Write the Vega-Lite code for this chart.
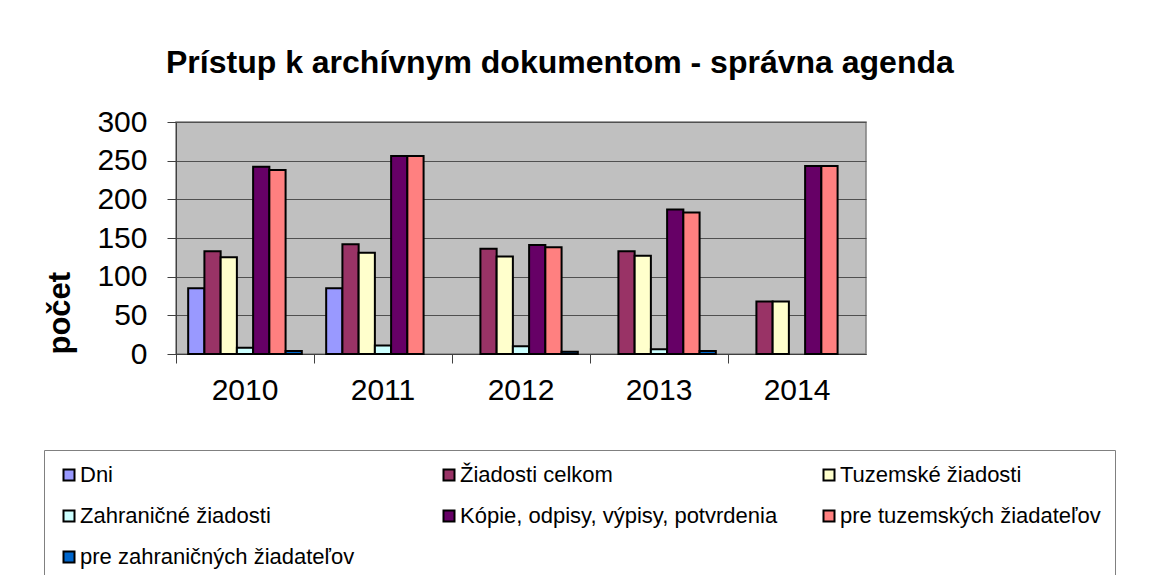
{
  "$schema": "https://vega.github.io/schema/vega-lite/v6.json",
  "autosize": "none",
  "padding": {"left": 176, "top": 122, "right": 300, "bottom": 221},
  "width": 690,
  "height": 232,
  "background": "white",
  "title": {
    "text": "Prístup k archívnym dokumentom - správna agenda",
    "font": "Liberation Sans",
    "fontSize": 32,
    "fontWeight": "bold",
    "color": "black",
    "anchor": "start",
    "frame": "group",
    "baseline": "alphabetic",
    "offset": 2,
    "dx": -10
  },
  "data": {
    "values": [
      {"rok": "2010", "séria": "Dni", "počet": 85},
      {"rok": "2010", "séria": "Žiadosti celkom", "počet": 133},
      {"rok": "2010", "séria": "Tuzemské žiadosti", "počet": 125},
      {"rok": "2010", "séria": "Zahraničné žiadosti", "počet": 8},
      {"rok": "2010", "séria": "Kópie, odpisy, výpisy, potvrdenia", "počet": 242},
      {"rok": "2010", "séria": "pre tuzemských žiadateľov", "počet": 238},
      {"rok": "2010", "séria": "pre zahraničných žiadateľov", "počet": 4},
      {"rok": "2011", "séria": "Dni", "počet": 85},
      {"rok": "2011", "séria": "Žiadosti celkom", "počet": 142},
      {"rok": "2011", "séria": "Tuzemské žiadosti", "počet": 131},
      {"rok": "2011", "séria": "Zahraničné žiadosti", "počet": 11},
      {"rok": "2011", "séria": "Kópie, odpisy, výpisy, potvrdenia", "počet": 256},
      {"rok": "2011", "séria": "pre tuzemských žiadateľov", "počet": 256},
      {"rok": "2012", "séria": "Žiadosti celkom", "počet": 136},
      {"rok": "2012", "séria": "Tuzemské žiadosti", "počet": 126},
      {"rok": "2012", "séria": "Zahraničné žiadosti", "počet": 10},
      {"rok": "2012", "séria": "Kópie, odpisy, výpisy, potvrdenia", "počet": 141},
      {"rok": "2012", "séria": "pre tuzemských žiadateľov", "počet": 138},
      {"rok": "2012", "séria": "pre zahraničných žiadateľov", "počet": 3},
      {"rok": "2013", "séria": "Žiadosti celkom", "počet": 133},
      {"rok": "2013", "séria": "Tuzemské žiadosti", "počet": 127},
      {"rok": "2013", "séria": "Zahraničné žiadosti", "počet": 6},
      {"rok": "2013", "séria": "Kópie, odpisy, výpisy, potvrdenia", "počet": 187},
      {"rok": "2013", "séria": "pre tuzemských žiadateľov", "počet": 183},
      {"rok": "2013", "séria": "pre zahraničných žiadateľov", "počet": 4},
      {"rok": "2014", "séria": "Žiadosti celkom", "počet": 68},
      {"rok": "2014", "séria": "Tuzemské žiadosti", "počet": 68},
      {"rok": "2014", "séria": "Kópie, odpisy, výpisy, potvrdenia", "počet": 243},
      {"rok": "2014", "séria": "pre tuzemských žiadateľov", "počet": 243}
    ]
  },
  "mark": {"type": "bar", "stroke": "black", "strokeWidth": 2},
  "encoding": {
    "x": {
      "field": "rok",
      "type": "nominal",
      "scale": {"paddingInner": 0, "paddingOuter": 0},
      "axis": {
        "title": null,
        "labelAngle": 0,
        "bandPosition": 0,
        "labelFont": "Liberation Sans",
        "labelFontSize": 30,
        "labelColor": "black",
        "labelPadding": 12,
        "tickSize": 9,
        "tickColor": "#404040",
        "domainColor": "#404040",
        "grid": false
      }
    },
    "xOffset": {
      "field": "séria",
      "type": "nominal",
      "scale": {
        "domain": ["Dni", "Žiadosti celkom", "Tuzemské žiadosti", "Zahraničné žiadosti", "Kópie, odpisy, výpisy, potvrdenia", "pre tuzemských žiadateľov", "pre zahraničných žiadateľov"],
        "paddingInner": 0,
        "paddingOuter": 0.75
      }
    },
    "y": {
      "field": "počet",
      "type": "quantitative",
      "scale": {"domain": [0, 300], "nice": false},
      "axis": {
        "title": "počet",
        "titleFont": "Liberation Sans",
        "titleFontSize": 31,
        "titleFontWeight": "bold",
        "titleColor": "black",
        "titleAnchor": "start",
        "titleBaseline": "alphabetic",
        "titleX": -107,
        "titleY": 232,
        "titleAngle": -90,
        "titleAlign": "left",
        "values": [0, 50, 100, 150, 200, 250, 300],
        "labelFont": "Liberation Sans",
        "labelFontSize": 30,
        "labelColor": "black",
        "labelPadding": 20,
        "tickSize": 9,
        "tickColor": "#404040",
        "domainColor": "#404040",
        "grid": true,
        "gridColor": "#505050",
        "gridWidth": 1
      }
    },
    "color": {
      "field": "séria",
      "type": "nominal",
      "scale": {
        "domain": ["Dni", "Žiadosti celkom", "Tuzemské žiadosti", "Zahraničné žiadosti", "Kópie, odpisy, výpisy, potvrdenia", "pre tuzemských žiadateľov", "pre zahraničných žiadateľov"],
        "range": ["#9999FF", "#993366", "#FFFFCC", "#CCFFFF", "#660066", "#FF8080", "#0066CC"]
      },
      "legend": {
        "title": null,
        "orient": "none",
        "legendX": -132,
        "legendY": 328,
        "direction": "horizontal",
        "columns": 3,
        "gridAlign": "all",
        "columnPadding": 40,
        "rowPadding": 19,
        "padding": 14,
        "strokeColor": "#808080",
        "fillColor": "white",
        "symbolType": "square",
        "symbolSize": 121,
        "symbolStrokeColor": "black",
        "symbolStrokeWidth": 2,
        "symbolOpacity": 1,
        "labelFont": "Liberation Sans",
        "labelFontSize": 22,
        "labelColor": "black",
        "labelOffset": 0,
        "labelLimit": 500
      }
    }
  },
  "config": {
    "view": {"fill": "#C0C0C0", "stroke": "#808080", "strokeWidth": 1.5}
  }
}
